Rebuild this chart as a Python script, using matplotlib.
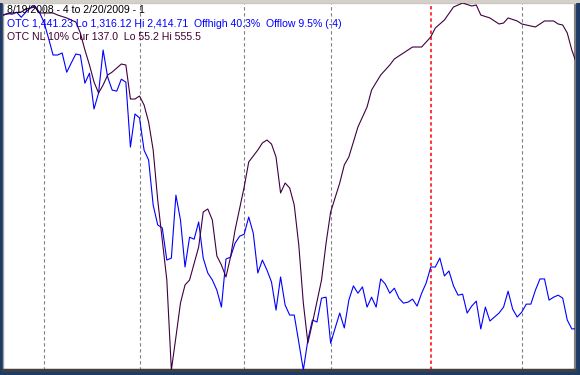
import numpy as np
import matplotlib
matplotlib.use("Agg")
import matplotlib.pyplot as plt
from matplotlib.patches import Rectangle

# OTC (Nasdaq composite) daily closes, trading days from 8/19/2008 to 2/20/2009
otc_close = [
    2387, 2393, 2390, 2396, 2381, 2396, 2409, 2415, 2396, 2366,
    2318, 2267, 2267, 2273, 2215, 2243, 2270, 2267, 2182, 2212,
    2104, 2152, 2282, 2200, 2161, 2158, 2194, 2185, 1989, 2089,
    2077, 1980, 1950, 1814, 1754, 1745, 1648, 1654, 1844, 1769,
    1627, 1717, 1711, 1763, 1654, 1609, 1588, 1557, 1506, 1651,
    1657, 1699, 1720, 1726, 1778, 1729, 1609, 1648, 1618, 1582,
    1497, 1597, 1512, 1482, 1482, 1400, 1316, 1407, 1467, 1461,
    1533, 1536, 1397, 1443, 1488, 1443, 1527, 1570, 1548, 1567,
    1506, 1536, 1506, 1591, 1576, 1548, 1563, 1533, 1518, 1521,
    1530, 1509, 1548, 1579, 1627, 1627, 1654, 1600, 1615, 1570,
    1542, 1545, 1488, 1509, 1524, 1440, 1506, 1464, 1476, 1488,
    1506, 1554, 1500, 1476, 1491, 1515, 1515, 1557, 1591, 1591,
    1527, 1536, 1542, 1533, 1467, 1440, 1441,
]

# new lows, 10% smoothing (plotted inverted)
nl_day = [0, 2, 4, 5, 7, 8, 11, 12, 14, 16, 17, 18, 19, 20, 21, 22, 23, 24,
          26, 27, 28, 29, 30, 31, 32, 33, 34, 36, 37, 38, 39, 40, 41, 43, 44,
          45, 46, 47, 48, 49, 50, 51, 53, 54, 56, 57, 58, 59, 60, 61, 62, 63,
          64, 65, 66, 67, 68, 70, 71, 72, 74, 75, 76, 78, 80, 81, 83, 85, 86,
          90, 92, 94, 95, 97, 99, 101, 103, 104, 105, 107, 109, 110, 111, 113,
          114, 115, 117, 119, 121, 122, 123, 124, 125, 126]
nl_val = [71.6, 68.8, 67.5, 63.4, 60.7, 68.8, 68.8, 71.6, 75.6, 81.1, 96.1,
          119.3, 139.7, 162.9, 177.9, 167.0, 153.4, 149.3, 138.4, 139.7, 186.1,
          186.1, 182.0, 194.2, 217.4, 255.6, 323.8, 432.8, 555.5, 510.5, 464.2,
          439.6, 432.8, 387.8, 340.1, 336.0, 351.0, 400.1, 412.4, 428.7, 401.5,
          364.6, 306.0, 271.9, 255.6, 246.0, 242.0, 247.4, 265.1, 314.2, 300.6,
          307.4, 330.6, 385.1, 464.2, 518.7, 491.4, 432.8, 382.4, 340.1, 300.6,
          276.0, 265.1, 224.2, 197.0, 173.8, 153.4, 139.7, 131.5, 115.2, 115.2,
          101.5, 89.3, 78.4, 60.7, 55.2, 59.3, 57.9, 71.6, 75.6, 83.8, 82.5,
          75.6, 79.7, 83.8, 85.2, 87.9, 79.7, 79.7, 83.8, 85.2, 96.1, 119.3,
          137.0]

month_start = [9, 30, 53, 72, 114]   # 9/2, 10/1, 11/3, 12/1, 2/2
year_start = 94                      # 1/2/2009

title1 = "8/19/2008 - 4 to 2/20/2009 - 1"
title2 = "OTC 1,441.23 Lo 1,316.12 Hi 2,414.71  Offhigh 40.3%  Offlow 9.5% (-4)"
title3 = "OTC NL 10% Cur 137.0  Lo 55.2 Hi 555.5"

BLUE = "#0000ff"
PURPLE = "#400040"

W, H = 580, 375
fig = plt.figure(figsize=(W / 100, H / 100), dpi=100)
fig.patch.set_facecolor("#1e3a66")
fig.add_artist(Rectangle((0, 1 - 3 / H), 1, 3 / H, transform=fig.transFigure,
                         facecolor="#d4d0c8", edgecolor="none"))

ax = fig.add_axes([3 / W, 5 / H, 572 / W, 367 / H])
ax.set_facecolor("white")
days = np.arange(len(otc_close))

for d in month_start:
    ax.axvline(d, color="#808080", lw=0.8, ls=(0, (3.0, 2.4)), zorder=1)
ax.axvline(year_start, color="#ff0000", lw=1.1, ls=(0, (2.2, 1.8)), zorder=1)

ax.plot(days, otc_close, color=BLUE, lw=0.8, zorder=3)
ax.set_xlim(0, 125.7)
ax.set_ylim(1316.12, 2424)
ax.set_xticks([])
ax.set_yticks([])
for side, col, w in [("left", "#a0a0a0", 1), ("bottom", "#404040", 2.5),
                     ("top", "#c8c8c8", 1), ("right", "#808080", 1.5)]:
    ax.spines[side].set_color(col)
    ax.spines[side].set_linewidth(w)

ax2 = ax.twinx()
ax2.plot(nl_day, nl_val, color=PURPLE, lw=0.8, zorder=3)
ax2.set_ylim(555.5, 55.2)
ax2.set_yticks([])
ax2.set_xlim(0, 125.7)
for s in ax2.spines.values():
    s.set_visible(False)

fam = ["Liberation Sans", "DejaVu Sans"]
fs = 7.6
fig.text(7 / W, 1 - 13 / H, title1, color="black", fontsize=fs, family=fam, va="baseline")
fig.text(7 / W, 1 - 27 / H, title2, color=BLUE, fontsize=fs, family=fam, va="baseline")
fig.text(7 / W, 1 - 39.5 / H, title3, color="#400030", fontsize=fs, family=fam, va="baseline")

fig.savefig("out.png", dpi=100, facecolor=fig.get_facecolor())
